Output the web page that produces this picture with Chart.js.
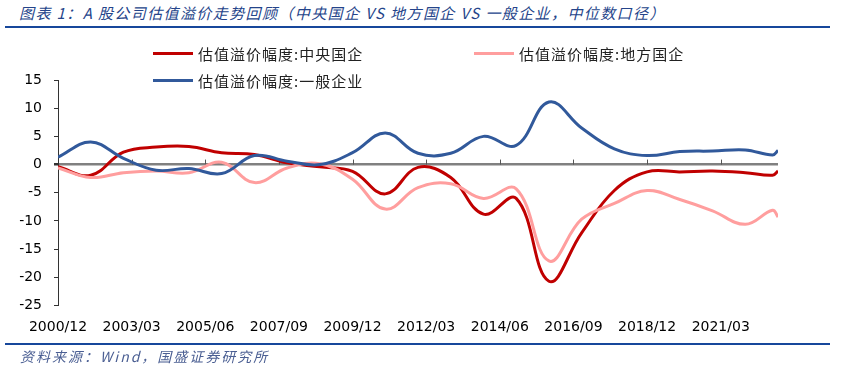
<!DOCTYPE html>
<html>
<head>
<meta charset="utf-8">
<script src="https://cdn.jsdelivr.net/npm/chart.js@4.4.0/dist/chart.umd.min.js"></script>
<style>
  html, body { margin: 0; padding: 0; background: #fff; }
  #wrap { position: relative; width: 848px; height: 371px; overflow: hidden; }
  #chart { position: absolute; left: 0; top: 0; }
  .title { position: absolute; left: 19px; top: 2px; font: italic 15px "Noto Sans CJK SC", sans-serif; color: #24448a; letter-spacing: 1.4px; white-space: nowrap; }
  .rule { position: absolute; left: 5px; width: 825px; height: 2px; background: #17479b; }
  .source { position: absolute; left: 20px; top: 346px; font: italic 14px "Noto Sans CJK SC", sans-serif; color: #4b5f93; letter-spacing: 2px; white-space: nowrap; }
  .legend-item { position: absolute; display: flex; align-items: center; font: 15px "Noto Sans CJK SC", sans-serif; color: #222; letter-spacing: 1px; white-space: nowrap; }
  .legend-item span.swatch { display: inline-block; width: 40px; height: 3px; margin-right: 5px; }
</style>
</head>
<body>
<div id="wrap">
  <div class="title">图表 1：A 股公司估值溢价走势回顾（中央国企 VS 地方国企 VS 一般企业，中位数口径）</div>
  <div class="rule" style="top:26px"></div>
  <canvas id="chart" width="848" height="371"></canvas>
  <div id="legend"></div>
  <div class="rule" style="top:343px"></div>
  <div class="source">资料来源：Wind，国盛证券研究所</div>
</div>
<script>
// year-end points, plus two in late 2022
const dates = ['2000/12', '2001/12', '2002/12', '2003/12', '2004/12', '2005/12', '2006/12', '2007/12',
  '2008/12', '2009/12', '2010/12', '2011/12', '2012/12', '2013/12', '2014/12', '2015/12', '2016/12',
  '2017/12', '2018/12', '2019/12', '2020/12', '2021/12', '2022/10', '2022/12']

const central = [-0.4, -1.9, 2.2, 3.1, 3.2, 2.1, 1.8, 0.3, -0.4, -1.2, -5.2, -0.5, -2.3, -8.8, -6.0,
  -20.7, -12.1, -4.6, -1.3, -1.3, -1.15, -1.45, -1.9, -1.15]
const local = [-0.6, -2.3, -1.45, -1.15, -1.45, 0.4, -3.2, -0.6, 0.15, -2.6, -7.9, -4.1, -3.4, -6.0, -4.3,
  -17.1, -9.7, -6.9, -4.6, -6.2, -8.2, -10.6, -8.1, -9.3]
const general = [1.3, 4.0, 1.1, -1.0, -0.7, -1.6, 1.6, 0.6, 0.0, 2.1, 5.6, 2.0, 2.0, 5.0, 3.4,
  11.1, 6.5, 2.8, 1.6, 2.3, 2.4, 2.6, 1.7, 2.5]

const xTickLabels = ['2000/12', '2003/03', '2005/06', '2007/09', '2009/12', '2012/03', '2014/06', '2016/09', '2018/12', '2021/03']
const yTicks = { min: -25, max: 15, step: 5 }

const seriesNames = ['估值溢价幅度:中央国企', '估值溢价幅度:地方国企', '估值溢价幅度:一般企业']
const seriesColors = ['#c00000', '#ff9e9e', '#31599b']

// months since 2000/12
function monthIndex(s) {
  let [y, m] = s.split('/').map(Number)
  return (y - 2000) * 12 + m - 12
}
function monthLabel(v) {
  let t = v + 12 * 2000 + 11
  let y = Math.floor(t / 12), m = t % 12 + 1
  return y + '/' + String(m).padStart(2, '0')
}

const xs = dates.map(monthIndex)
const tickValues = xTickLabels.map(monthIndex)

function toPoints(vals) {
  return vals.map((v, i) => ({ x: xs[i], y: v }))
}

// small tick marks standing on the zero line
const zeroTicks = {
  id: 'zeroTicks',
  beforeDatasetsDraw(chart) {
    let { ctx, scales: { x, y } } = chart
    let y0 = y.getPixelForValue(0)
    ctx.save()
    ctx.strokeStyle = '#555'
    ctx.lineWidth = 1
    tickValues.slice(1).forEach(v => {
      let px = Math.round(x.getPixelForValue(v)) + 0.5
      ctx.beginPath()
      ctx.moveTo(px, y0)
      ctx.lineTo(px, y0 - 5)
      ctx.stroke()
    })
    ctx.restore()
  }
}

let datasets = [central, local, general].map((vals, i) => ({
  label: seriesNames[i],
  data: toPoints(vals),
  borderColor: seriesColors[i],
  backgroundColor: seriesColors[i],
  borderWidth: 3,
  pointRadius: 0,
  tension: 0.4,
  fill: false,
  order: 2 - i
}))

new Chart(document.getElementById('chart'), {
  type: 'line',
  data: { datasets },
  options: {
    responsive: false,
    animation: false,
    layout: { padding: { top: 80, right: 70, left: 0, bottom: 0 } },
    plugins: { legend: { display: false }, tooltip: { enabled: false } },
    scales: {
      x: {
        type: 'linear',
        min: 0,
        max: xs[xs.length - 1],
        afterFit: s => { s.height = 65.5 },
        afterBuildTicks: s => { s.ticks = tickValues.map(v => ({ value: v })) },
        grid: { display: false, drawTicks: false },
        border: { display: false },
        ticks: {
          autoSkip: false,
          maxRotation: 0,
          padding: 13,
          color: '#000',
          font: { family: 'DejaVu Sans', size: 14 },
          callback: v => monthLabel(v)
        }
      },
      y: {
        min: yTicks.min,
        max: yTicks.max,
        afterFit: s => { s.width = 58 },
        grid: {
          color: c => c.tick && c.tick.value === 0 ? '#808080' : 'rgba(0,0,0,0)',
          lineWidth: c => c.tick && c.tick.value === 0 ? 2.5 : 1,
          tickColor: '#333',
          tickLength: 4
        },
        border: { display: true, color: '#333', width: 1 },
        ticks: {
          stepSize: yTicks.step,
          padding: 12,
          color: '#000',
          font: { family: 'DejaVu Sans', size: 14 }
        }
      }
    }
  },
  plugins: [zeroTicks]
})

// two-column legend like the original
const legendPos = [[153, 43], [474, 43], [153, 70]]
let legend = document.getElementById('legend')
seriesNames.forEach((name, i) => {
  let item = document.createElement('div')
  item.className = 'legend-item'
  item.style.left = legendPos[i][0] + 'px'
  item.style.top = legendPos[i][1] + 'px'
  let sw = document.createElement('span')
  sw.className = 'swatch'
  sw.style.background = seriesColors[i]
  item.appendChild(sw)
  item.appendChild(document.createTextNode(name))
  legend.appendChild(item)
})
</script>
</body>
</html>
